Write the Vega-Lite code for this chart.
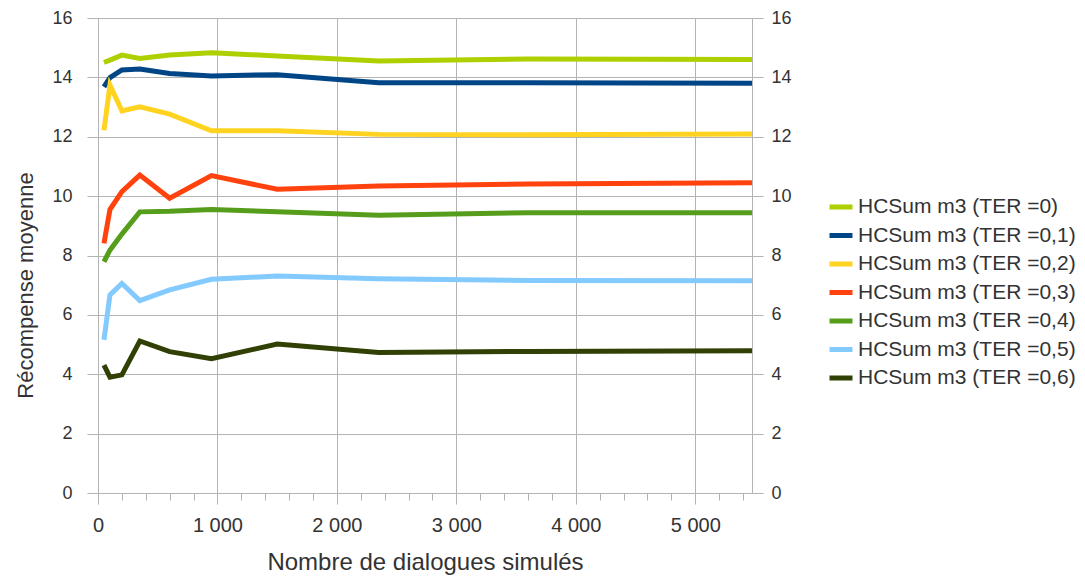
{
  "$schema": "https://vega.github.io/schema/vega-lite/v6.json",
  "autosize": "none",
  "width": 654,
  "height": 475,
  "padding": {"left": 98, "top": 18, "right": 333, "bottom": 83},
  "background": "white",
  "config": {
    "view": {"stroke": null},
    "font": "Liberation Sans",
    "axis": {
      "labelFont": "Liberation Sans",
      "titleFont": "Liberation Sans",
      "labelFontSize": 18,
      "titleFontSize": 22,
      "labelColor": "#333333",
      "titleColor": "#333333",
      "titleFontWeight": "normal",
      "domainColor": "#b3b3b3",
      "tickColor": "#b3b3b3",
      "gridColor": "#b3b3b3",
      "gridOpacity": 1
    },
    "legend": {
      "labelFont": "Liberation Sans",
      "labelFontSize": 21,
      "labelColor": "#333333",
      "labelLimit": 0
    }
  },
  "data": {
    "values": [
      {"n": 50, "r": 14.50, "s": "HCSum m3 (TER =0)"},
      {"n": 100, "r": 14.58, "s": "HCSum m3 (TER =0)"},
      {"n": 200, "r": 14.75, "s": "HCSum m3 (TER =0)"},
      {"n": 350, "r": 14.64, "s": "HCSum m3 (TER =0)"},
      {"n": 600, "r": 14.75, "s": "HCSum m3 (TER =0)"},
      {"n": 950, "r": 14.83, "s": "HCSum m3 (TER =0)"},
      {"n": 1500, "r": 14.72, "s": "HCSum m3 (TER =0)"},
      {"n": 2350, "r": 14.55, "s": "HCSum m3 (TER =0)"},
      {"n": 3600, "r": 14.62, "s": "HCSum m3 (TER =0)"},
      {"n": 5475, "r": 14.60, "s": "HCSum m3 (TER =0)"},
      {"n": 50, "r": 13.68, "s": "HCSum m3 (TER =0,1)"},
      {"n": 100, "r": 13.99, "s": "HCSum m3 (TER =0,1)"},
      {"n": 200, "r": 14.25, "s": "HCSum m3 (TER =0,1)"},
      {"n": 350, "r": 14.28, "s": "HCSum m3 (TER =0,1)"},
      {"n": 600, "r": 14.13, "s": "HCSum m3 (TER =0,1)"},
      {"n": 950, "r": 14.05, "s": "HCSum m3 (TER =0,1)"},
      {"n": 1500, "r": 14.09, "s": "HCSum m3 (TER =0,1)"},
      {"n": 2350, "r": 13.82, "s": "HCSum m3 (TER =0,1)"},
      {"n": 3600, "r": 13.82, "s": "HCSum m3 (TER =0,1)"},
      {"n": 5475, "r": 13.80, "s": "HCSum m3 (TER =0,1)"},
      {"n": 50, "r": 12.22, "s": "HCSum m3 (TER =0,2)"},
      {"n": 100, "r": 13.74, "s": "HCSum m3 (TER =0,2)"},
      {"n": 200, "r": 12.87, "s": "HCSum m3 (TER =0,2)"},
      {"n": 350, "r": 13.01, "s": "HCSum m3 (TER =0,2)"},
      {"n": 600, "r": 12.76, "s": "HCSum m3 (TER =0,2)"},
      {"n": 950, "r": 12.20, "s": "HCSum m3 (TER =0,2)"},
      {"n": 1500, "r": 12.20, "s": "HCSum m3 (TER =0,2)"},
      {"n": 2350, "r": 12.08, "s": "HCSum m3 (TER =0,2)"},
      {"n": 3600, "r": 12.07, "s": "HCSum m3 (TER =0,2)"},
      {"n": 5475, "r": 12.09, "s": "HCSum m3 (TER =0,2)"},
      {"n": 50, "r": 8.41, "s": "HCSum m3 (TER =0,3)"},
      {"n": 100, "r": 9.55, "s": "HCSum m3 (TER =0,3)"},
      {"n": 200, "r": 10.15, "s": "HCSum m3 (TER =0,3)"},
      {"n": 350, "r": 10.71, "s": "HCSum m3 (TER =0,3)"},
      {"n": 600, "r": 9.93, "s": "HCSum m3 (TER =0,3)"},
      {"n": 950, "r": 10.69, "s": "HCSum m3 (TER =0,3)"},
      {"n": 1500, "r": 10.23, "s": "HCSum m3 (TER =0,3)"},
      {"n": 2350, "r": 10.34, "s": "HCSum m3 (TER =0,3)"},
      {"n": 3600, "r": 10.41, "s": "HCSum m3 (TER =0,3)"},
      {"n": 5475, "r": 10.45, "s": "HCSum m3 (TER =0,3)"},
      {"n": 50, "r": 7.79, "s": "HCSum m3 (TER =0,4)"},
      {"n": 100, "r": 8.18, "s": "HCSum m3 (TER =0,4)"},
      {"n": 200, "r": 8.72, "s": "HCSum m3 (TER =0,4)"},
      {"n": 350, "r": 9.47, "s": "HCSum m3 (TER =0,4)"},
      {"n": 600, "r": 9.49, "s": "HCSum m3 (TER =0,4)"},
      {"n": 950, "r": 9.55, "s": "HCSum m3 (TER =0,4)"},
      {"n": 1500, "r": 9.47, "s": "HCSum m3 (TER =0,4)"},
      {"n": 2350, "r": 9.36, "s": "HCSum m3 (TER =0,4)"},
      {"n": 3600, "r": 9.44, "s": "HCSum m3 (TER =0,4)"},
      {"n": 5475, "r": 9.44, "s": "HCSum m3 (TER =0,4)"},
      {"n": 50, "r": 5.16, "s": "HCSum m3 (TER =0,5)"},
      {"n": 100, "r": 6.67, "s": "HCSum m3 (TER =0,5)"},
      {"n": 200, "r": 7.06, "s": "HCSum m3 (TER =0,5)"},
      {"n": 350, "r": 6.48, "s": "HCSum m3 (TER =0,5)"},
      {"n": 600, "r": 6.84, "s": "HCSum m3 (TER =0,5)"},
      {"n": 950, "r": 7.20, "s": "HCSum m3 (TER =0,5)"},
      {"n": 1500, "r": 7.31, "s": "HCSum m3 (TER =0,5)"},
      {"n": 2350, "r": 7.22, "s": "HCSum m3 (TER =0,5)"},
      {"n": 3600, "r": 7.16, "s": "HCSum m3 (TER =0,5)"},
      {"n": 5475, "r": 7.15, "s": "HCSum m3 (TER =0,5)"},
      {"n": 50, "r": 4.31, "s": "HCSum m3 (TER =0,6)"},
      {"n": 100, "r": 3.90, "s": "HCSum m3 (TER =0,6)"},
      {"n": 200, "r": 3.98, "s": "HCSum m3 (TER =0,6)"},
      {"n": 350, "r": 5.12, "s": "HCSum m3 (TER =0,6)"},
      {"n": 600, "r": 4.76, "s": "HCSum m3 (TER =0,6)"},
      {"n": 950, "r": 4.52, "s": "HCSum m3 (TER =0,6)"},
      {"n": 1500, "r": 5.02, "s": "HCSum m3 (TER =0,6)"},
      {"n": 2350, "r": 4.73, "s": "HCSum m3 (TER =0,6)"},
      {"n": 3600, "r": 4.77, "s": "HCSum m3 (TER =0,6)"},
      {"n": 5475, "r": 4.79, "s": "HCSum m3 (TER =0,6)"}
    ]
  },
  "encoding": {
    "x": {
      "field": "n",
      "type": "quantitative",
      "scale": {"domain": [0, 5475], "nice": false, "zero": false},
      "axis": {
        "title": "Nombre de dialogues simulés",
        "titleFontSize": 24,
        "labelFontSize": 20,
        "values": [0, 200, 400, 600, 800, 1000, 1200, 1400, 1600, 1800, 2000, 2200, 2400, 2600, 2800, 3000, 3200, 3400, 3600, 3800, 4000, 4200, 4400, 4600, 4800, 5000, 5200, 5400],
        "labelExpr": "datum.value % 1000 === 0 ? replace(format(datum.value, ','), ',', ' ') : ''",
        "tickSize": {"condition": {"test": "datum.value % 1000 === 0", "value": 11}, "value": 7},
        "gridOpacity": {"condition": {"test": "datum.value % 1000 === 0", "value": 1}, "value": 0},
        "labelPadding": 11,
        "titlePadding": 15,
        "labelFlush": false,
        "labelOverlap": false
      }
    },
    "y": {
      "field": "r",
      "type": "quantitative",
      "scale": {"domain": [0, 16], "nice": false}
    }
  },
  "layer": [
    {
      "mark": {"type": "line", "strokeWidth": 5, "strokeJoin": "miter"},
      "encoding": {
        "y": {
          "field": "r",
          "type": "quantitative",
          "scale": {"domain": [0, 16], "nice": false},
          "axis": {
            "title": "Récompense moyenne",
            "values": [0, 2, 4, 6, 8, 10, 12, 14, 16],
            "tickSize": 11,
            "labelPadding": 15,
            "titleY": 267,
            "titlePadding": 14
          }
        },
        "color": {
          "field": "s",
          "type": "nominal",
          "scale": {
            "domain": ["HCSum m3 (TER =0)", "HCSum m3 (TER =0,1)", "HCSum m3 (TER =0,2)", "HCSum m3 (TER =0,3)", "HCSum m3 (TER =0,4)", "HCSum m3 (TER =0,5)", "HCSum m3 (TER =0,6)"],
            "range": ["#aecf00", "#004586", "#ffd320", "#ff420e", "#579d1c", "#83caff", "#314004"]
          },
          "legend": {
            "title": null,
            "orient": "none",
            "legendX": 729,
            "legendY": 175,
            "padding": 0,
            "symbolType": "stroke",
            "symbolSize": 529,
            "symbolStrokeWidth": 5,
            "labelOffset": 3,
            "rowPadding": 4.5
          }
        }
      }
    },
    {
      "mark": {"type": "line", "opacity": 0},
      "encoding": {
        "y": {
          "field": "r",
          "type": "quantitative",
          "scale": {"domain": [0, 16], "nice": false},
          "axis": {
            "title": null,
            "orient": "right",
            "values": [0, 2, 4, 6, 8, 10, 12, 14, 16],
            "tickSize": 11,
            "labelPadding": 8,
            "grid": false
          }
        },
        "detail": {"field": "s"}
      }
    }
  ],
  "resolve": {"axis": {"y": "independent"}}
}
